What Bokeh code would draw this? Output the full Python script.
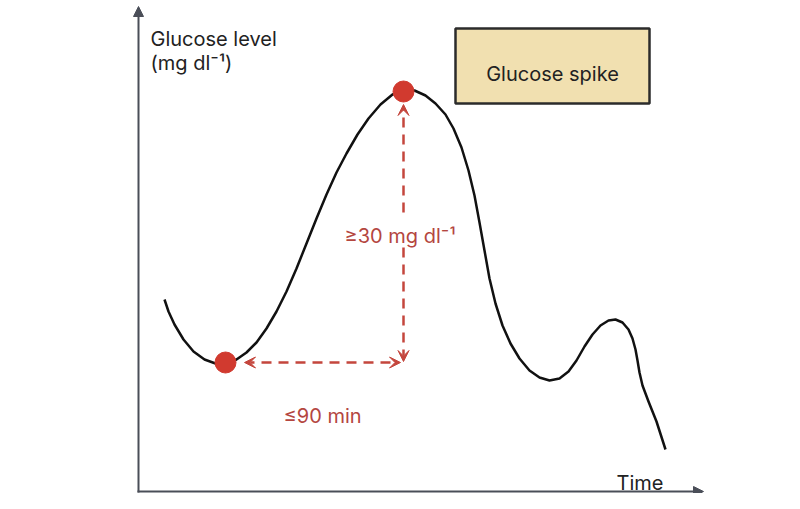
from bokeh.plotting import figure
from bokeh.models import Range1d, Arrow, VeeHead, NormalHead
from bokeh.core.properties import value
from bokeh.embed import file_html
from bokeh.resources import INLINE

# ---- data (chart units: time to the right, glucose upward) ----
curve_time = [164, 168, 174, 183, 193, 204, 215, 225, 236, 246, 256, 266, 276, 286, 296,
              306, 316, 326, 336, 346, 357, 368, 380, 392, 403, 414, 425, 435, 445, 453,
              461, 468, 474, 479, 484, 489, 495, 502, 510, 519, 529, 539, 549, 559, 568,
              576, 584, 592, 600, 608, 615, 622, 628, 632, 635, 637, 639, 642, 648, 656, 665]
curve_glucose_px = [299, 311, 324, 339, 351, 359, 363, 363, 359, 352, 342, 328, 311, 291, 268,
                    243, 218, 194, 172, 153, 134, 118, 104, 94, 90, 90, 95, 103, 114, 128,
                    147, 170, 195, 222, 250, 278, 303, 325, 343, 358, 370, 377, 380, 378, 371,
                    360, 346, 334, 325, 320, 319, 322, 329, 338, 349, 360, 372, 385, 401, 421, 449]
TOP = 509
curve_glucose = [TOP - v for v in curve_glucose_px]

dot_time = [225, 403]
dot_glucose = [TOP - 362, TOP - 91]

axis_origin = (138, TOP - 491)
axis_time_end = 703
axis_glucose_end = TOP - 6

rise_time = 403
rise_top = TOP - 104
rise_gap_top = TOP - 212
rise_gap_bottom = TOP - 247
rise_bottom = TOP - 361
dur_glucose = TOP - 362
dur_from = 244
dur_to = 400

box_left, box_right, box_top, box_bottom = 455, 649, TOP - 28, TOP - 103

label_text = ["Glucose level", "(mg dl\u207b\u00b9)", "Time"]
label_x = [150, 150, 616]
label_y = [TOP - 38, TOP - 62, TOP - 482]

red_text = ["\u226530 mg dl\u207b\u00b9", "\u226490 min"]
red_x = [344, 283]
red_y = [TOP - 235, TOP - 415]

box_text = ["Glucose spike"]
box_tx = [552]
box_ty = [TOP - 73]

# ---- figure ----
p = figure(width=784, height=493, output_backend="svg", toolbar_location=None,
           x_range=Range1d(0, 784), y_range=Range1d(16, 509),
           x_axis_type=None, y_axis_type=None, min_border=0)
p.grid.visible = False
p.outline_line_color = None
p.background_fill_color = "white"

axis_col = "#4a4e58"
red = "#c4463d"
font = value("Inter")


def vee():
    return VeeHead(size=11, fill_color=red, line_color=red, line_width=1)


# axes with arrows
p.add_layout(Arrow(end=NormalHead(size=10, fill_color=axis_col, line_color=axis_col),
                   x_start=axis_origin[0], y_start=axis_origin[1] - 1,
                   x_end=axis_origin[0], y_end=axis_glucose_end,
                   line_color=axis_col, line_width=2))
p.add_layout(Arrow(end=NormalHead(size=10, fill_color=axis_col, line_color=axis_col),
                   x_start=axis_origin[0] - 1, y_start=axis_origin[1],
                   x_end=axis_time_end, y_end=axis_origin[1],
                   line_color=axis_col, line_width=2))

# curve
p.line(curve_time, curve_glucose, line_color="#111111", line_width=2.5, line_join="round")

# dashed arrows (vertical one interrupted behind its label)
p.add_layout(Arrow(start=None, end=vee(), x_start=rise_time, y_start=rise_gap_top,
                   x_end=rise_time, y_end=rise_top,
                   line_color=red, line_width=2.5, line_dash="10 7"))
p.add_layout(Arrow(start=None, end=vee(), x_start=rise_time, y_start=rise_gap_bottom,
                   x_end=rise_time, y_end=rise_bottom,
                   line_color=red, line_width=2.5, line_dash="10 7"))
p.add_layout(Arrow(start=vee(), end=vee(), x_start=dur_from, y_start=dur_glucose,
                   x_end=dur_to, y_end=dur_glucose,
                   line_color=red, line_width=2.5, line_dash="10 7"))

# dots
p.scatter(dot_time, dot_glucose, size=21, fill_color="#d13a2f", line_color="#d13a2f")

# box
p.quad(left=[box_left], right=[box_right], top=[box_top], bottom=[box_bottom],
       fill_color="#f1e0b0", line_color="#2b2b2b", line_width=2.5)
p.text(box_tx, box_ty, text=box_text, text_font=font, text_font_size="20px",
       text_color="#222222", text_align="center", text_baseline="alphabetic")

# labels
p.text(label_x, label_y, text=label_text, text_font=font, text_font_size="20px",
       text_color="#222222", text_baseline="alphabetic")
p.text(red_x, red_y, text=red_text, text_font=font, text_font_size="20px",
       text_color="#b4463f", text_baseline="alphabetic")

open("out.html", "w").write(file_html(p, INLINE))
